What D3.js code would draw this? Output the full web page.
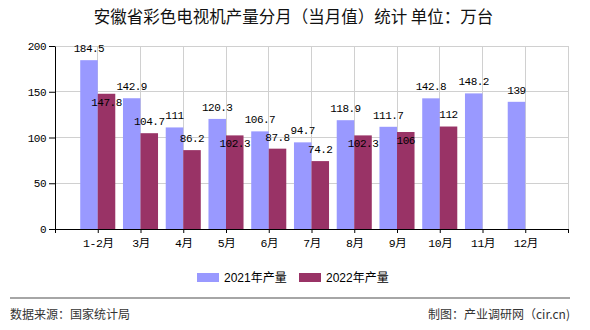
<!DOCTYPE html>
<html><head><meta charset="utf-8">
<script src="https://cdn.jsdelivr.net/npm/d3@7"></script>
<style>
html,body{margin:0;padding:0;background:#fff;}
svg{display:block;}
</style></head>
<body>
<script>
const categories = ["1-2月","3月","4月","5月","6月","7月","8月","9月","10月","11月","12月"];
const values2021 = [184.5,142.9,111,120.3,106.7,94.7,118.9,111.7,142.8,148.2,139];
const values2022 = [147.8,104.7,86.2,102.3,87.8,74.2,102.3,106,112,null,null];
const seriesNames = ["2021年产量","2022年产量"];
const yTicks = [0,50,100,150,200];
const titleText = "安徽省彩色电视机产量分月（当月值）统计 单位：万台";
const sourceText = "数据来源：国家统计局";
const creditText = "制图：产业调研网（cir.cn)";

(function(){
const W = 590, H = 330;
const colors = ["#9999ff","#993366"];
const svg = d3.select("body").append("svg").attr("width",W).attr("height",H);

const pL = 55, pR = 568, pT = 46, pB = 229;
const x = d3.scaleLinear().domain([0, categories.length + 1]).range([pL, pR]);
const y = d3.scaleLinear().domain([0, 200]).range([pB, pT]);
const band = x(1) - x(0);
const bw = band * 0.41;

// grid
svg.append("g").selectAll("line").data(yTicks.filter(d=>d>0)).join("line")
  .attr("x1",pL).attr("x2",pR).attr("y1",d=>y(d)).attr("y2",d=>y(d))
  .attr("stroke","#d0d0d0").attr("stroke-width",1).attr("shape-rendering","crispEdges");
svg.append("g").selectAll("line").data(d3.range(1, categories.length + 2)).join("line")
  .attr("x1",d=>x(d)).attr("x2",d=>x(d)).attr("y1",pT).attr("y2",pB)
  .attr("stroke","#d0d0d0").attr("stroke-width",1).attr("shape-rendering","crispEdges");

// bars
const g = svg.append("g");
categories.forEach((c,i)=>{
  const cx = x(i+1);
  g.append("rect").attr("x",cx-bw).attr("width",bw).attr("y",y(values2021[i])).attr("height",pB-y(values2021[i])).attr("fill",colors[0]);
  if (values2022[i] != null)
    g.append("rect").attr("x",cx).attr("width",bw).attr("y",y(values2022[i])).attr("height",pB-y(values2022[i])).attr("fill",colors[1]);
});

// axes
const yAxis = d3.axisLeft(y).tickValues(yTicks).tickSize(6).tickSizeOuter(0).tickPadding(3);
const ya = svg.append("g").attr("transform",`translate(${pL},0)`).call(yAxis);
ya.select(".domain").attr("stroke","#000");
ya.selectAll(".tick line").attr("stroke","#000");
ya.selectAll("text").attr("font-family","'Liberation Mono',monospace").attr("font-size","11px")
  .attr("letter-spacing","-0.5px").attr("fill","#000");

const xAxis = d3.axisBottom(x).tickValues(d3.range(0, categories.length + 2)).tickSize(4).tickSizeOuter(0)
  .tickFormat(d => (d>=1 && d<=categories.length) ? categories[d-1] : "");
const xa = svg.append("g").attr("transform",`translate(0,${pB})`).call(xAxis);
xa.select(".domain").attr("stroke","#000");
xa.selectAll(".tick line").attr("stroke","#000");
xa.selectAll("text").attr("font-family","'Liberation Mono','Noto Sans CJK SC',monospace").attr("font-size","11.5px")
  .attr("letter-spacing","-0.4px").attr("fill","#000").attr("dy","0.95em");

// value labels
const cw = 5.6, lh = 11;
const boxes21 = values2021.map((v,i)=>{
  const cx = x(i+1) - bw/2, cy = y(v) - 12, w = String(v).length*cw;
  return {x0:cx-w/2,x1:cx+w/2,cy};
});
const lab = svg.append("g").attr("font-family","'Liberation Mono',monospace").attr("font-size","11px")
  .attr("letter-spacing","-0.5px").attr("fill","#000").attr("text-anchor","middle");
values2021.forEach((v,i)=>{
  lab.append("text").attr("x",x(i+1)-bw/2).attr("y",y(v)-12).attr("dy","0.35em").text(v);
});
values2022.forEach((v,i)=>{
  if (v==null) return;
  const cx = x(i+1)+bw/2, w = String(v).length*cw;
  let cy = y(v)-12;
  const hit = boxes21.some(b => b.x1 > cx-w/2 && b.x0 < cx+w/2 && Math.abs(b.cy-cy) < lh);
  if (hit) cy = y(v)+8;
  lab.append("text").attr("x",cx).attr("y",cy).attr("dy","0.35em").text(v);
});

// title
svg.append("text").attr("x",293.5).attr("y",23).attr("text-anchor","middle")
  .attr("font-family","'Noto Sans CJK SC',sans-serif").attr("font-size","16.5px").attr("fill","#111")
  .attr("xml:space","preserve").text(titleText);

// legend
const leg = svg.append("g").attr("font-family","'Liberation Sans','Noto Sans CJK SC',sans-serif").attr("font-size","12px");
const legX = [197, 299];
seriesNames.forEach((n,i)=>{
  leg.append("rect").attr("x",legX[i]).attr("y",273).attr("width",22).attr("height",9).attr("fill",colors[i]);
  leg.append("text").attr("x",legX[i]+27).attr("y",282).attr("fill","#000").text(n);
});

// footer
svg.append("line").attr("x1",10).attr("x2",570).attr("y1",298).attr("y2",298).attr("stroke","#888").attr("stroke-width",1.5);
svg.append("text").attr("x",10).attr("y",319).attr("font-family","'Noto Sans CJK SC',sans-serif").attr("font-size","12px").attr("fill","#333").text(sourceText);
svg.append("text").attr("x",570).attr("y",319).attr("text-anchor","end").attr("font-family","'Noto Sans CJK SC',sans-serif").attr("font-size","12px").attr("fill","#333").text(creditText);
})();
</script>
</body></html>
